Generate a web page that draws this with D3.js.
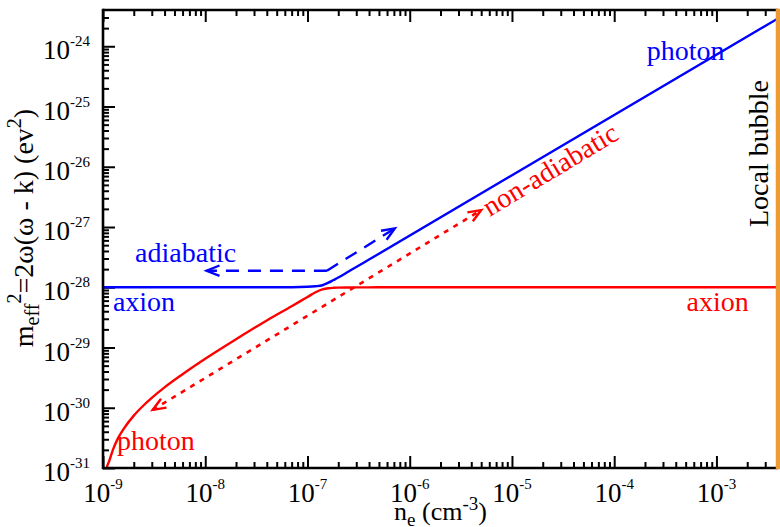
<!DOCTYPE html>
<html>
<head>
<meta charset="utf-8">
<script src="https://cdn.jsdelivr.net/npm/d3@7"></script>
<style>
  body { margin: 0; background: #fff; }
  text { font-family: "Liberation Serif", "Times New Roman", serif; }
</style>
</head>
<body>
<div id="mount"></div>
<script>
var WIDTH = 780, HEIGHT = 527;
var LEFT = 103, RIGHT = 778, TOP = 10, BOTTOM = 468;

// upper eigenvalue (blue): axion at low n_e, photon at high n_e
var upperNe = [1e-9, 5e-8, 1.0e-7, 1.2e-7, 1.4e-7, 1.6e-7, 1.8e-7, 2.0e-7, 2.5e-7, 3.0e-7, 4.0e-7, 4e-3];
var upperM2 = [1.0e-28, 1.0e-28, 1.02e-28, 1.04e-28, 1.08e-28, 1.19e-28, 1.32e-28, 1.45e-28, 1.81e-28, 2.17e-28, 2.88e-28, 2.9e-24];

// lower eigenvalue (red): photon at low n_e, axion at high n_e
var lowerNe = [1.05e-9, 1.09e-9, 1.15e-9, 1.25e-9, 1.4e-9, 1.6e-9, 2e-9, 2.5e-9, 3e-9, 4e-9, 6e-9, 1e-8, 2e-8, 4e-8, 7e-8, 1e-7, 1.2e-7, 1.4e-7, 1.6e-7, 1.8e-7, 2e-7, 2.5e-7, 3e-7, 4e-7, 5e-7, 4e-3];
var lowerM2 = [0.6e-31, 1.0e-31, 1.3e-31, 2.0e-31, 3.1e-31, 4.5e-31, 7.4e-31, 1.1e-30, 1.46e-30, 2.18e-30, 3.6e-30, 6.5e-30, 1.37e-29, 2.81e-29, 4.85e-29, 6.9e-29, 8.25e-29, 9.2e-29, 9.65e-29, 9.8e-29, 9.86e-29, 9.92e-29, 9.95e-29, 9.97e-29, 1.0e-28, 1.0e-28];

// adiabatic arrows (blue dashed): corner, left tip, upper tip
var adiabaticNe = [1.55e-7, 1.03e-8, 7.15e-7];
var adiabaticM2 = [1.88e-28, 1.88e-28, 9.5e-28];

// non-adiabatic arrow (red dotted): lower tip, upper tip
var nonAdiabaticNe = [3.06e-9, 5.0e-6];
var nonAdiabaticM2 = [9.2e-31, 1.91e-27];

var localBubbleNe = 4e-3;

var xTickValues = [1e-9, 1e-8, 1e-7, 1e-6, 1e-5, 1e-4, 1e-3];
var xTickExps = ['-9', '-8', '-7', '-6', '-5', '-4', '-3'];
var yTickValues = [1e-31, 1e-30, 1e-29, 1e-28, 1e-27, 1e-26, 1e-25, 1e-24];
var yTickExps = ['-31', '-30', '-29', '-28', '-27', '-26', '-25', '-24'];

var BLUE = '#0000ff', RED = '#ff0000', ORANGE = '#ef9b35';

var x = d3.scaleLog().domain([1e-9, 4e-3]).range([LEFT, RIGHT]);
var y = d3.scaleLog().domain([1e-31, 4e-24]).range([BOTTOM, TOP]);

var $svg = d3.select('#mount')
  .append('svg')
  .attr('width', WIDTH)
  .attr('height', HEIGHT);

$svg.append('defs').append('clipPath')
  .attr('id', 'plot-clip')
  .append('rect')
  .attr('x', LEFT).attr('y', TOP)
  .attr('width', RIGHT - LEFT).attr('height', BOTTOM - TOP);

// ticks (inward, no domain path)
function isDecade (v) {
  return Math.abs(Math.log10(v) - Math.round(Math.log10(v))) < 1e-6;
}
var xMinor = x.ticks().filter(function (v) { return !isDecade(v); });
var yMinor = y.ticks().filter(function (v) { return !isDecade(v); });

function addAxis (axis, tx, ty) {
  var g = $svg.append('g')
    .attr('transform', 'translate(' + tx + ',' + ty + ')')
    .call(axis);
  g.select('.domain').remove();
  g.selectAll('text').remove();
  g.selectAll('line').attr('stroke', '#000').attr('stroke-width', 2);
  return g;
}

addAxis(d3.axisBottom(x).tickValues(xTickValues).tickSize(-12), 0, BOTTOM);
addAxis(d3.axisBottom(x).tickValues(xMinor).tickSize(-6), 0, BOTTOM);
addAxis(d3.axisTop(x).tickValues(xTickValues).tickSize(-12), 0, TOP);
addAxis(d3.axisTop(x).tickValues(xMinor).tickSize(-6), 0, TOP);
addAxis(d3.axisLeft(y).tickValues(yTickValues).tickSize(-12), LEFT, 0);
addAxis(d3.axisLeft(y).tickValues(yMinor).tickSize(-6), LEFT, 0);

// curves
var plot = $svg.append('g').attr('clip-path', 'url(#plot-clip)');

function pts (ne, m2) {
  return ne.map(function (d, i) { return [x(d), y(m2[i])]; });
}
var smooth = d3.line().curve(d3.curveMonotoneX);
var straight = d3.line();

plot.append('path')
  .attr('d', smooth(pts(lowerNe, lowerM2)))
  .attr('fill', 'none').attr('stroke', RED).attr('stroke-width', 2.4);

plot.append('path')
  .attr('d', smooth(pts(upperNe, upperM2)))
  .attr('fill', 'none').attr('stroke', BLUE).attr('stroke-width', 2.4);

function arrowHead (tip, from, color) {
  var a = Math.atan2(tip[1] - from[1], tip[0] - from[0]);
  var len = 14, spread = 22 * Math.PI / 180;
  var p1 = [tip[0] - len * Math.cos(a - spread), tip[1] - len * Math.sin(a - spread)];
  var p2 = [tip[0] - len * Math.cos(a + spread), tip[1] - len * Math.sin(a + spread)];
  plot.append('path')
    .attr('d', straight([p1, tip, p2]))
    .attr('fill', 'none').attr('stroke', color).attr('stroke-width', 2.4);
}

var adi = pts(adiabaticNe, adiabaticM2);
[1, 2].forEach(function (k) {
  plot.append('path')
    .attr('d', straight([adi[0], adi[k]]))
    .attr('fill', 'none').attr('stroke', BLUE).attr('stroke-width', 2.4)
    .attr('stroke-dasharray', '13,9');
  arrowHead(adi[k], adi[0], BLUE);
});

var non = pts(nonAdiabaticNe, nonAdiabaticM2);
plot.append('path')
  .attr('d', straight(non))
  .attr('fill', 'none').attr('stroke', RED).attr('stroke-width', 2.6)
  .attr('stroke-dasharray', '5,6');
arrowHead(non[0], non[1], RED);
arrowHead(non[1], non[0], RED);

// frame
var frame = $svg.append('g').attr('stroke', '#000').attr('stroke-width', 2.6);
frame.append('line').attr('x1', LEFT).attr('x2', LEFT).attr('y1', TOP - 1.3).attr('y2', BOTTOM + 1.3);
frame.append('line').attr('x1', LEFT).attr('x2', RIGHT).attr('y1', BOTTOM).attr('y2', BOTTOM);
frame.append('line').attr('x1', LEFT).attr('x2', RIGHT).attr('y1', TOP).attr('y2', TOP);

$svg.append('line')
  .attr('x1', x(localBubbleNe)).attr('x2', x(localBubbleNe))
  .attr('y1', TOP - 1.3).attr('y2', BOTTOM + 1.3)
  .attr('stroke', ORANGE).attr('stroke-width', 4.5);

// tick labels
xTickValues.forEach(function (v, i) {
  var t = $svg.append('text')
    .attr('x', x(v)).attr('y', 502)
    .attr('text-anchor', 'middle')
    .attr('font-size', 27);
  t.append('tspan').text('10');
  t.append('tspan').attr('font-size', 15).attr('dy', -13).text(xTickExps[i]);
});

yTickValues.forEach(function (v, i) {
  var t = $svg.append('text')
    .attr('x', 90).attr('y', y(v) + 13)
    .attr('text-anchor', 'end')
    .attr('font-size', 27);
  t.append('tspan').text('10');
  t.append('tspan').attr('font-size', 15).attr('dy', -13).text(yTickExps[i]);
});

// axis titles
var xt = $svg.append('text')
  .attr('x', (LEFT + RIGHT) / 2).attr('y', 520)
  .attr('text-anchor', 'middle').attr('font-size', 26);
xt.append('tspan').text('n');
xt.append('tspan').attr('font-size', 19).attr('dy', 6).text('e');
xt.append('tspan').attr('dy', -6).text(' (cm');
xt.append('tspan').attr('font-size', 19).attr('dy', -10).text('-3');
xt.append('tspan').attr('dy', 10).text(')');

var yt = $svg.append('text')
  .attr('transform', 'translate(33,228) rotate(-90)')
  .attr('text-anchor', 'middle').attr('font-size', 28);
yt.append('tspan').text('m');
yt.append('tspan').attr('font-size', 20).attr('dy', 6).text('eff');
yt.append('tspan').attr('font-size', 20).attr('dy', -18).text('2');
yt.append('tspan').attr('dy', 12).text('=2\u03c9(\u03c9 - k) (ev');
yt.append('tspan').attr('font-size', 20).attr('dy', -12).text('2');
yt.append('tspan').attr('dy', 12).text(')');

// annotations
function label (txt, ne, m2, color, rotate) {
  var t = $svg.append('text')
    .attr('font-size', 28)
    .attr('fill', color)
    .text(txt);
  var tr = 'translate(' + x(ne) + ',' + y(m2) + ')';
  if (rotate) tr += ' rotate(' + rotate + ')';
  t.attr('transform', tr);
  return t;
}

label('photon', 2.08e-4, 5.9e-25, BLUE);
label('axion', 1.25e-9, 4.04e-29, BLUE);
label('adiabatic', 2.06e-9, 2.62e-28, BLUE);
label('axion', 5.1e-4, 4.04e-29, RED);
label('photon', 1.37e-9, 1.99e-31, RED);
label('non-adiabatic', 6.07e-6, 1.47e-27, RED, -31);

$svg.append('text')
  .attr('transform', 'translate(' + (x(localBubbleNe) - 10) + ',' + y(1e-27) + ') rotate(-90)')
  .attr('font-size', 28)
  .attr('fill', '#000')
  .text('Local bubble');
</script>
</body>
</html>
